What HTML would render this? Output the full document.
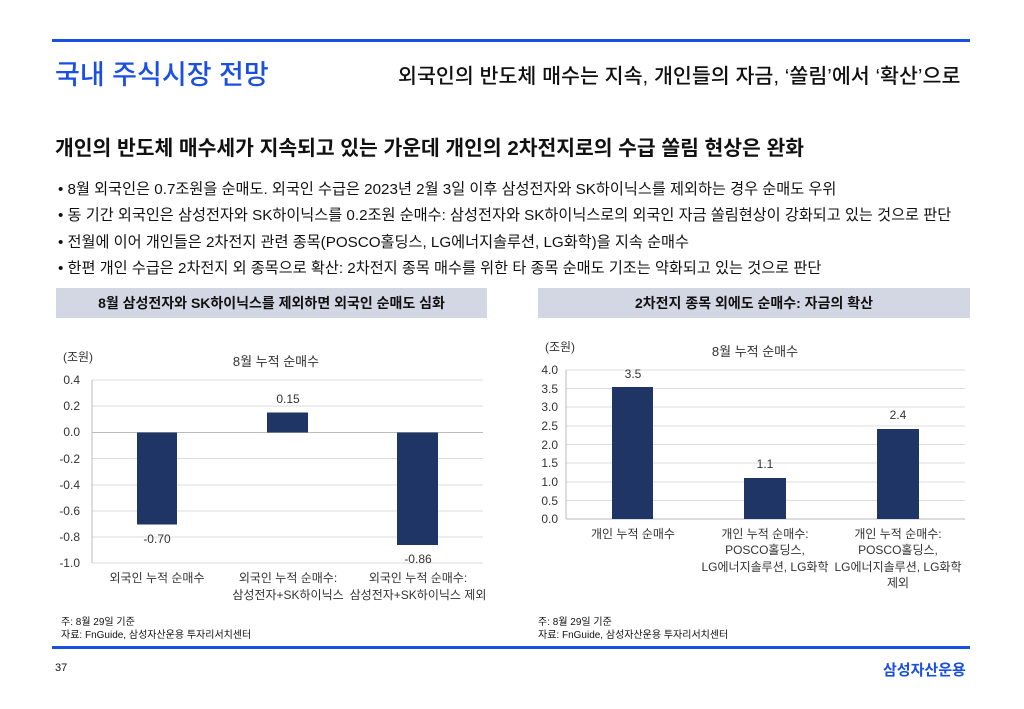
<!DOCTYPE html>
<html><head><meta charset="utf-8"><style>
body{margin:0;width:1024px;height:709px;background:#fff;font-family:"Liberation Sans","Noto Sans CJK KR",sans-serif;position:relative;overflow:hidden;color:#111}
.a{position:absolute;white-space:nowrap}
.hl{position:absolute;left:52px;width:918px;height:3px;background:#1a4fe0}
.box{position:absolute;top:288px;height:30px;background:#d3d7e4;font-weight:bold;font-size:14px;text-align:center;line-height:30px}
.b{font-size:15.2px}
svg text{font-family:"Liberation Sans","Noto Sans CJK KR",sans-serif;fill:#333}
</style></head><body>
<div class="hl" style="top:39px"></div>
<div class="a" style="left:55px;top:53px;font-size:27px;color:#1a4fe0;font-weight:500">국내 주식시장 전망</div>
<div class="a" style="left:398px;top:59px;font-size:20.6px;font-weight:500">외국인의 반도체 매수는 지속, 개인들의 자금, ‘쏠림’에서 ‘확산’으로</div>
<div class="a" style="left:55px;top:131px;font-size:20.4px;font-weight:bold">개인의 반도체 매수세가 지속되고 있는 가운데 개인의 2차전지로의 수급 쏠림 현상은 완화</div>
<div class="a b" style="left:58px;top:177px">• 8월 외국인은 0.7조원을 순매도. 외국인 수급은 2023년 2월 3일 이후 삼성전자와 SK하이닉스를 제외하는 경우 순매도 우위</div>
<div class="a b" style="left:58px;top:203px">• 동 기간 외국인은 삼성전자와 SK하이닉스를 0.2조원 순매수: 삼성전자와 SK하이닉스로의 외국인 자금 쏠림현상이 강화되고 있는 것으로 판단</div>
<div class="a b" style="left:58px;top:230px">• 전월에 이어 개인들은 2차전지 관련 종목(POSCO홀딩스, LG에너지솔루션, LG화학)을 지속 순매수</div>
<div class="a b" style="left:58px;top:256px">• 한편 개인 수급은 2차전지 외 종목으로 확산: 2차전지 종목 매수를 위한 타 종목 순매도 기조는 약화되고 있는 것으로 판단</div>
<div class="box" style="left:56px;width:431px">8월 삼성전자와 SK하이닉스를 제외하면 외국인 순매도 심화</div>
<div class="box" style="left:538px;width:432px">2차전지 종목 외에도 순매수: 자금의 확산</div>
<svg class="a" style="left:0;top:0" width="1024" height="709">
<g stroke="#ddd" stroke-width="1">
<line x1="92" x2="483" y1="380" y2="380"/><line x1="92" x2="483" y1="406" y2="406"/><line x1="92" x2="483" y1="458.5" y2="458.5"/><line x1="92" x2="483" y1="485" y2="485"/><line x1="92" x2="483" y1="511" y2="511"/><line x1="92" x2="483" y1="537" y2="537"/><line x1="92" x2="483" y1="563" y2="563"/>
</g>
<line x1="92" x2="92" y1="380" y2="563" stroke="#bbb"/>
<line x1="92" x2="483" y1="432.5" y2="432.5" stroke="#bbb"/>
<g fill="#1f3566"><rect x="137" y="432.5" width="40" height="92"/><rect x="267" y="412.5" width="41" height="20"/><rect x="397" y="432.5" width="41" height="112.5"/></g>
<g font-size="12" text-anchor="end">
<text x="80" y="384">0.4</text><text x="80" y="410">0.2</text><text x="80" y="436">0.0</text><text x="80" y="463">-0.2</text><text x="80" y="489">-0.4</text><text x="80" y="515">-0.6</text><text x="80" y="541">-0.8</text><text x="80" y="567">-1.0</text></g>
<g font-size="12" text-anchor="middle">
<text x="78" y="361">(조원)</text><text x="276" y="366" font-size="13">8월 누적 순매수</text>
<text x="157" y="543">-0.70</text><text x="288" y="403">0.15</text><text x="418" y="563">-0.86</text>
<text x="157" y="582">외국인 누적 순매수</text><text x="288" y="582">외국인 누적 순매수:</text><text x="288" y="599">삼성전자+SK하이닉스</text>
<text x="418" y="582">외국인 누적 순매수:</text><text x="418" y="599">삼성전자+SK하이닉스 제외</text>
<text x="61" y="625" text-anchor="start" font-size="10" style="fill:#111">주: 8월 29일 기준</text>
<text x="61" y="638" text-anchor="start" font-size="10" style="fill:#111">자료: FnGuide, 삼성자산운용 투자리서치센터</text>
</g>
<g stroke="#ddd">
<line x1="566" x2="965" y1="370" y2="370"/><line x1="566" x2="965" y1="388.5" y2="388.5"/><line x1="566" x2="965" y1="407" y2="407"/><line x1="566" x2="965" y1="426" y2="426"/><line x1="566" x2="965" y1="444.5" y2="444.5"/><line x1="566" x2="965" y1="463" y2="463"/><line x1="566" x2="965" y1="482" y2="482"/><line x1="566" x2="965" y1="500.5" y2="500.5"/>
</g>
<line x1="566" x2="566" y1="370" y2="519" stroke="#bbb"/><line x1="566" x2="965" y1="519" y2="519" stroke="#bbb"/>
<g fill="#1f3566"><rect x="612" y="387" width="41" height="132"/><rect x="744" y="478" width="42" height="41"/><rect x="877" y="429" width="42" height="90"/></g>
<g font-size="12" text-anchor="end">
<text x="558" y="374">4.0</text><text x="558" y="393">3.5</text><text x="558" y="411">3.0</text><text x="558" y="430">2.5</text><text x="558" y="449">2.0</text><text x="558" y="467">1.5</text><text x="558" y="486">1.0</text><text x="558" y="505">0.5</text><text x="558" y="523">0.0</text></g>
<g font-size="12" text-anchor="middle">
<text x="560" y="351">(조원)</text><text x="755" y="356" font-size="13">8월 누적 순매수</text>
<text x="633" y="378">3.5</text><text x="765" y="468">1.1</text><text x="898" y="419">2.4</text>
<text x="633" y="538">개인 누적 순매수</text>
<text x="765" y="538">개인 누적 순매수:</text><text x="765" y="554">POSCO홀딩스,</text><text x="765" y="571">LG에너지솔루션, LG화학</text>
<text x="898" y="538">개인 누적 순매수:</text><text x="898" y="554">POSCO홀딩스,</text><text x="898" y="571">LG에너지솔루션, LG화학</text><text x="898" y="587">제외</text>
<text x="538" y="625" text-anchor="start" font-size="10" style="fill:#111">주: 8월 29일 기준</text>
<text x="538" y="638" text-anchor="start" font-size="10" style="fill:#111">자료: FnGuide, 삼성자산운용 투자리서치센터</text>
</g>
</svg>
<div class="hl" style="top:646px"></div>
<div class="a" style="left:55px;top:662px;font-size:11px">37</div>
<div class="a" style="left:883px;top:659px;font-size:15px;font-weight:bold;color:#1a4fe0">삼성자산운용</div>
</body></html>
